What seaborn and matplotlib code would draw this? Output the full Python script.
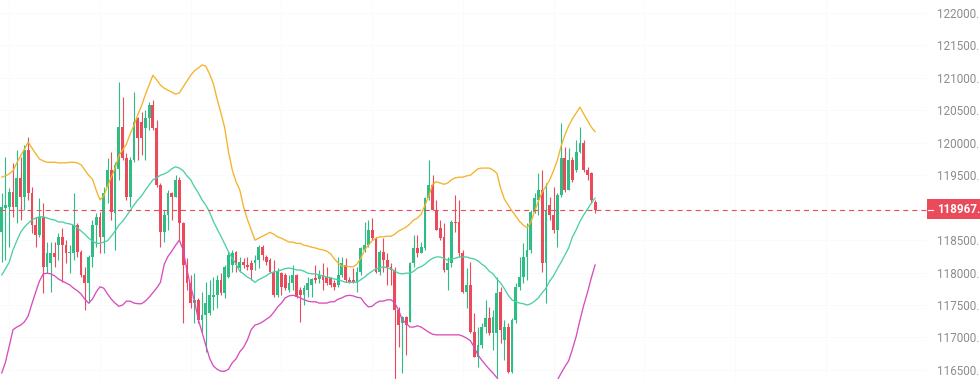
import numpy as np
import pandas as pd
import matplotlib
matplotlib.use("Agg")
import matplotlib.pyplot as plt
from matplotlib.patches import Rectangle
from matplotlib.lines import Line2D
import seaborn as sns

# ---------------- data ----------------
opens = [118630,118990,119016,119247,119016,119452,119170,119889,119221,118733,
         118579,118862,118091,118142,118296,118425,118553,118425,118296,118296,
         118733,118322,117962,117834,118245,118733,118862,118553,119324,119581,
         118918,119600,120249,119761,119170,119735,120377,120326,120223,120377,
         120583,120223,119350,118630,118887,119221,119170,119427,118759,118117,
         117834,117526,117577,117269,117346,117372,117628,117654,117886,117680,
         117937,118117,118322,118065,118168,118117,118142,118142,118194,118399,
         118245,118194,118014,117654,117988,117962,117731,117834,117962,117731,
         117654,117731,117808,117911,117895,117962,117937,117911,117834,117808,
         117962,118116,117885,117885,117860,118014,118348,118425,118656,118527,
         118014,118322,118194,118091,118040,117423,117217,117320,117243,118142,
         118373,118296,118373,119144,119349,118964,118681,118553,118040,118142,
         118784,118784,118296,117705,117808,117089,116704,116884,117166,117294,
         117063,117063,117700,116960,117166,116472,117268,117782,117936,118245,
         118347,118938,119118,119272,118142,119041,118887,118655,119195,119760,
         119272,119734,119580,119863,119991,119580,119529,119092]
highs = [119221,119786,119298,119683,119889,119786,119966,120094,119324,118862,
         119144,119067,118476,118476,118476,118605,118682,118502,118425,119221,
         118759,118348,118091,118271,118810,118913,118939,119324,119760,119863,
         119700,120942,120711,119838,119786,120788,120403,120480,120506,120634,
         120660,120351,119375,118964,119273,119247,119504,119478,118785,118219,
         117963,117988,117603,117700,117860,117886,117937,117962,117988,118117,
         118322,118348,118330,118245,118219,118245,118194,118271,118425,118425,
         118271,118219,118194,118065,118014,117988,117962,118117,117975,117783,
         117808,117937,117911,118116,118040,118142,118091,117937,117885,118245,
         118245,118219,117937,118065,118091,118399,118784,118810,118836,118553,
         118348,118527,118296,118142,118091,117474,117330,117330,118168,118579,
         118579,118476,119170,119735,119503,119118,118810,118758,118245,118810,
         119195,119118,118347,118065,118168,117371,117166,117217,117577,117474,
         117423,117937,117782,117268,117217,117294,117834,118245,118450,118758,
         118964,119220,119529,119580,119375,119169,119323,119220,120299,119940,
         119914,119786,120042,120248,120042,119631,119554,119118]
lows = [118168,118194,118399,118862,118759,118810,118964,119118,118605,118399,
        118553,117680,117988,117706,118091,118194,117860,118142,117988,118194,
        118245,117937,117423,117526,118091,118399,118296,118296,119067,118810,
        118348,119427,119735,119118,119016,119709,119735,119812,119735,120197,
        120197,119324,118399,118476,118656,118810,119170,118502,117218,117731,
        117449,117218,117218,117089,116781,117346,117423,117449,117654,117603,
        117911,118014,118014,118014,118065,118040,117886,118040,118065,118194,
        118117,118000,117629,117629,117654,117731,117706,117731,117603,117243,
        117500,117628,117628,117834,117834,117731,117808,117782,117731,117782,
        117937,117860,117834,117834,117705,117962,118322,118399,118502,117988,
        117962,118014,117808,117808,116340,116858,116447,116730,117243,118091,
        118245,118296,118348,119118,118964,118656,118502,118014,117731,118091,
        118630,118245,117680,117449,117063,116704,116550,116832,117063,117038,
        116806,116396,116909,116652,116447,116447,117217,117731,117834,117885,
        118296,118912,118887,118013,117525,118810,118604,118399,119169,119246,
        119272,119400,119554,119837,119554,119426,119066,118912]
closes = [119016,119041,119247,119016,119452,119170,119889,119221,118733,118579,
          118862,118091,118296,118296,118245,118553,118425,118296,118322,118733,
          118322,117962,117834,118245,118733,118862,118553,119221,119581,118939,
          119650,120249,119761,119170,119735,120326,120069,120069,120377,120583,
          120223,119350,118630,118887,119221,119170,119427,118759,118117,117834,
          117526,117577,117269,117346,117526,117654,117654,117886,117680,118091,
          118271,118296,118117,118168,118117,118091,118040,118194,118399,118271,
          118168,118014,117654,118014,117783,117757,117834,117962,117629,117654,
          117757,117834,117895,117885,117962,117885,117834,117808,117782,117962,
          118142,117885,117860,117849,118014,118373,118425,118656,118527,118014,
          118322,118194,118091,118040,117423,117192,117320,117192,118142,118373,
          118296,118399,119144,119349,118964,118656,118527,118040,118142,118784,
          118759,118296,117705,117808,117089,116704,116884,117166,117294,117063,
          117320,117680,117120,117166,116472,117268,117782,117936,118245,118347,
          118938,119143,119272,118142,118964,118887,118655,119195,119760,119272,
          119734,119426,119863,119991,119580,119503,119118,118967]

bb_upper = [119470,119490,119520,119570,119690,119800,119900,120010,119920,119830,
            119750,119720,119700,119700,119700,119690,119690,119690,119700,119700,
            119690,119660,119580,119500,119440,119270,119120,119180,119330,119470,
            119610,119800,119890,119980,120140,120270,120430,120570,120740,120890,
            121040,120970,120890,120840,120810,120780,120750,120770,120860,120950,
            121040,121110,121150,121200,121180,121060,120910,120670,120460,120230,
            119860,119580,119400,119270,119010,118820,118660,118500,118530,118560,
            118590,118620,118590,118550,118530,118500,118470,118470,118450,118450,
            118420,118410,118390,118380,118360,118350,118330,118290,118210,118150,
            118100,118100,118090,118090,118130,118220,118350,118420,118490,118530,
            118550,118550,118560,118560,118590,118640,118670,118700,118750,118810,
            118840,118900,119040,119180,119360,119400,119380,119360,119380,119430,
            119460,119470,119470,119490,119500,119550,119600,119610,119610,119610,
            119580,119530,119300,119130,119040,118950,118870,118790,118730,118690,
            118780,118950,119100,119240,119330,119430,119570,119730,119950,120120,
            120260,120370,120460,120550,120440,120340,120240,120170]
bb_middle = [117960,118060,118160,118350,118490,118620,118700,118760,118810,118840,
             118860,118860,118840,118820,118810,118780,118780,118760,118750,118730,
             118690,118640,118590,118530,118490,118450,118450,118470,118490,118560,
             118640,118730,118790,118870,118960,119040,119120,119180,119270,119350,
             119430,119460,119500,119520,119550,119600,119630,119610,119570,119490,
             119430,119320,119230,119120,119040,118930,118790,118670,118560,118440,
             118320,118220,118130,118020,117980,117930,117900,117850,117890,117920,
             117950,117990,118010,118020,118040,118060,118070,118060,118040,118040,
             118020,117990,117980,117980,117960,117950,117930,117920,117900,117890,
             117870,117850,117850,117850,117850,117890,117930,117980,118020,118060,
             118070,118090,118070,118060,118020,117990,117980,117990,117990,118020,
             118070,118090,118130,118180,118220,118240,118240,118220,118190,118210,
             118220,118240,118240,118240,118220,118210,118180,118130,118090,118020,
             117980,117900,117840,117750,117650,117580,117550,117530,117520,117500,
             117520,117560,117610,117690,117760,117870,117950,118060,118160,118270,
             118380,118550,118660,118790,118890,118980,119070,119150]
bb_lower = [116450,116620,116870,117120,117160,117190,117240,117330,117520,117700,
            117870,117980,117990,117980,117950,117900,117870,117840,117810,117760,
            117720,117670,117590,117530,117590,117700,117780,117760,117670,117590,
            117530,117480,117500,117560,117560,117530,117520,117520,117560,117620,
            117690,117760,117850,118130,118250,118330,118420,118500,118350,118040,
            117790,117560,117280,117080,116880,116680,116560,116510,116480,116480,
            116510,116610,116670,116780,116850,116960,117120,117190,117210,117240,
            117280,117320,117390,117470,117530,117610,117640,117650,117640,117610,
            117580,117560,117550,117550,117530,117530,117530,117550,117550,117590,
            117610,117640,117650,117640,117620,117610,117530,117470,117480,117530,
            117560,117560,117580,117580,117530,117420,117270,117220,117160,117160,
            117180,117160,117120,117080,117050,117040,117040,117040,117040,117040,
            117040,117040,117020,116990,116950,116850,116730,116650,116580,116510,
            116450,116380,116300,116220,116140,116100,116070,116040,116020,115990,
            115980,115990,116020,116050,116110,116180,116250,116340,116450,116550,
            116640,116820,117020,117270,117500,117700,117920,118120]

last_price = 118967
price_ticks = [116500, 117000, 117500, 118000, 118500, 119500,
               120000, 120500, 121000, 121500, 122000]
# visible part of the price-axis labels (the right edge of the canvas cuts the decimals)
tick_labels = ["116500.", "117000.", "117500.", "118000.", "118500.", "119500.",
               "120000.", "120500.", "121000.", "121500.", "122000."]
last_label = "118967."

# ---------------- styling ----------------
GREEN = "#2EBD85"
RED = "#EA4A5A"
C_UP = "#F3B32A"
C_MID = "#4CCFA6"
C_LOW = "#D84DBC"
LABEL = "#8C8C8C"

sns.set_theme(style="white")
plt.rcParams['font.family'] = ['Roboto', 'DejaVu Sans']
plt.rcParams['lines.scale_dashes'] = False

W, H = 980, 379
fig = plt.figure(figsize=(W / 100, H / 100), dpi=100)
fig.patch.set_facecolor("white")
ax = fig.add_axes([0, 0, 927 / W, 1])
ax.set_facecolor("white")

n = len(closes)
idx = np.arange(n)
df = pd.DataFrame({"idx": idx, "open": opens, "high": highs, "low": lows, "close": closes,
                   "upper": bb_upper, "middle": bb_middle, "lower": bb_lower})
df["up"] = df["close"] >= df["open"]
colors = np.where(df["up"], GREEN, RED)

# candles
ax.vlines(df["idx"], df["low"], df["high"], colors=colors, linewidth=0.8, zorder=2)
body_bottom = np.minimum(df["open"], df["close"])
body_h = np.maximum(np.abs(df["close"] - df["open"]), 15)
ax.bar(df["idx"], body_h, bottom=body_bottom, width=0.74, color=colors, linewidth=0, zorder=2)

# bollinger bands via seaborn
bands = df.melt(id_vars="idx", value_vars=["upper", "middle", "lower"],
                var_name="band", value_name="price")
sns.lineplot(data=bands, x="idx", y="price", hue="band",
             palette={"upper": C_UP, "middle": C_MID, "lower": C_LOW},
             linewidth=0.95, legend=False, ax=ax, zorder=3)

# last price dashed line
ax.axhline(last_price, color=RED, linewidth=0.8, dashes=(3.6, 2.9), zorder=4)

# axes limits
ax.set_xlim(-0.45, 244.8)
ax.set_ylim(116360, 122200)

# (nearly invisible) grid
grid_x = [2, 26, 50, 74, 98, 122, 146, 170, 194, 218]
ax.set_xticks(grid_x)
ax.set_xticklabels([])
ax.yaxis.tick_right()
ax.set_yticks(price_ticks)
ax.set_yticklabels(tick_labels)
ax.tick_params(axis="y", length=0, pad=7.2, labelsize=8.4, labelcolor=LABEL)
ax.tick_params(axis="x", length=0)
ax.grid(True, color="#fafafa", linewidth=0.6)
ax.set_xlabel("")
ax.set_ylabel("")
for s in ax.spines.values():
    s.set_visible(False)

# last price badge
y_px = (122200 - last_price) / (122200 - 116360) * H
box_top, box_bot = y_px - 10.5, y_px + 9.5
fig.patches.append(Rectangle((927 / W, 1 - box_bot / H), (W - 927) / W, (box_bot - box_top) / H,
                             transform=fig.transFigure, facecolor=RED, edgecolor="none", zorder=5))
fig.lines.append(Line2D([928 / W, 933 / W], [1 - y_px / H, 1 - y_px / H], color="white",
                        linewidth=0.9, transform=fig.transFigure, zorder=6))
fig.text(937 / W, 1 - y_px / H, last_label, color="white", fontsize=8.4,
         fontweight="bold", va="center", ha="left", zorder=6)

fig.savefig("out.png", dpi=100, facecolor="white")
